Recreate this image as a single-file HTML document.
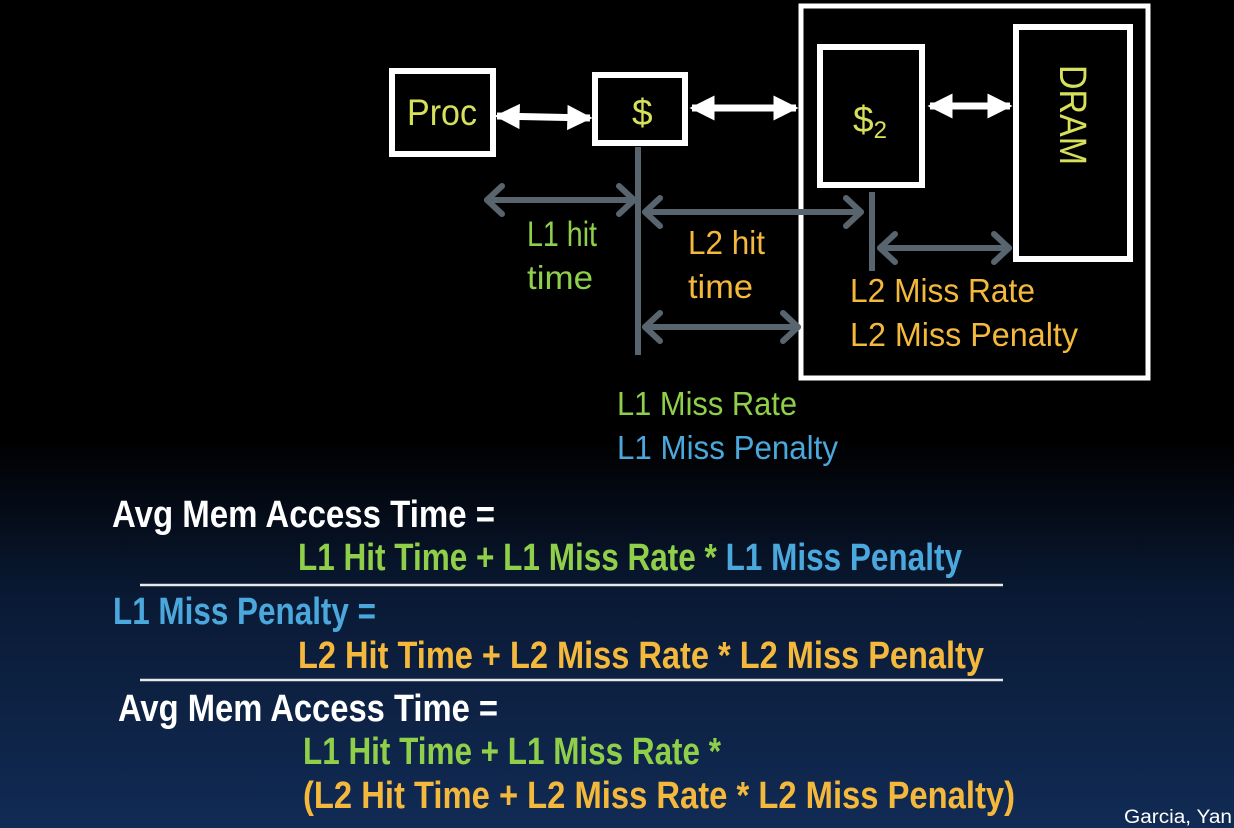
<!DOCTYPE html>
<html><head><meta charset="utf-8"><style>
html,body{margin:0;padding:0;}
body{width:1234px;height:828px;overflow:hidden;background:linear-gradient(to bottom,#000 0px,#000 440px,#0a1a35 600px,#112b55 828px);}
svg{display:block}
.d{font-family:"Liberation Sans Narrow","Liberation Sans",sans-serif;font-size:33px;}
.b{font-family:"Liberation Sans Narrow","Liberation Sans",sans-serif;font-size:38px;font-weight:bold;}
</style></head><body>
<svg width="1234" height="828" viewBox="0 0 1234 828" xmlns="http://www.w3.org/2000/svg">
<defs>
<marker id="wa" viewBox="0 0 10 10" refX="9" refY="5" markerWidth="3.6" markerHeight="4.4" orient="auto-start-reverse"><path d="M0,0 L10,5 L0,10 Z" fill="#fff"/></marker>
</defs>
<g fill="none" stroke="#fff">
<rect x="801" y="6" width="347" height="372" stroke-width="5"/>
<rect x="392" y="71" width="101" height="83" stroke-width="6"/>
<rect x="595" y="75" width="90" height="68" stroke-width="6"/>
<rect x="820" y="47" width="102" height="138" stroke-width="6"/>
<rect x="1016" y="27" width="114" height="232" stroke-width="6"/>
</g>
<g stroke="#fff" stroke-width="7">
<line x1="497" y1="116" x2="590" y2="118" marker-start="url(#wa)" marker-end="url(#wa)"/>
<line x1="692" y1="108" x2="796" y2="108" marker-start="url(#wa)" marker-end="url(#wa)"/>
<line x1="930" y1="106" x2="1010" y2="106" marker-start="url(#wa)" marker-end="url(#wa)"/>
</g>
<g stroke="#58646e" stroke-width="6" fill="none" stroke-linecap="round" stroke-linejoin="round">
<line x1="638" y1="147" x2="638" y2="355" stroke-linecap="butt"/>
<line x1="872" y1="192" x2="872" y2="271" stroke-linecap="butt"/>
<line x1="487" y1="200" x2="634" y2="200"/><polyline points="502,186 487,200 502,214"/><polyline points="619,186 634,200 619,214"/>
<line x1="645" y1="212" x2="861" y2="212"/><polyline points="660,198 645,212 660,226"/><polyline points="846,198 861,212 846,226"/>
<line x1="880" y1="248" x2="1009" y2="248"/><polyline points="895,234 880,248 895,262"/><polyline points="994,234 1009,248 994,262"/>
<line x1="645" y1="327" x2="798" y2="327"/><polyline points="660,313 645,327 660,341"/><polyline points="783,313 798,327 783,341"/>
</g>
<g class="d" fill="#d6e05a">
<text x="407" y="125" font-size="37" textLength="70" lengthAdjust="spacingAndGlyphs">Proc</text>
<text x="632" y="125" font-size="37">$</text>
<text x="853" y="132" font-size="37">$<tspan font-size="24" dy="6">2</tspan></text>
<text transform="translate(1060,65) rotate(90)" font-size="38" textLength="100" lengthAdjust="spacingAndGlyphs">DRAM</text>
</g>
<g class="d">
<text x="527" y="246" fill="#8fcf4a" font-size="35" textLength="70" lengthAdjust="spacingAndGlyphs">L1 hit</text>
<text x="527" y="289" fill="#8fcf4a" textLength="66" lengthAdjust="spacingAndGlyphs">time</text>
<text x="688" y="254" fill="#f4b93c" textLength="77" lengthAdjust="spacingAndGlyphs">L2 hit</text>
<text x="688" y="298" fill="#f4b93c" textLength="65" lengthAdjust="spacingAndGlyphs">time</text>
<text x="850" y="302" fill="#f4b93c" textLength="185" lengthAdjust="spacingAndGlyphs">L2 Miss Rate</text>
<text x="850" y="346" fill="#f4b93c" textLength="228" lengthAdjust="spacingAndGlyphs">L2 Miss Penalty</text>
<text x="617" y="415" fill="#8fcf4a" textLength="180" lengthAdjust="spacingAndGlyphs">L1 Miss Rate</text>
<text x="617" y="459" fill="#4aa8dc" textLength="221" lengthAdjust="spacingAndGlyphs">L1 Miss Penalty</text>
</g>
<g class="b">
<text x="112" y="527" fill="#fff" textLength="383" lengthAdjust="spacingAndGlyphs">Avg Mem Access Time =</text>
<text x="298" y="570" textLength="664" lengthAdjust="spacingAndGlyphs"><tspan fill="#8fcf4a">L1 Hit Time + L1 Miss Rate * </tspan><tspan fill="#4aa8dc">L1 Miss Penalty</tspan></text>
<text x="113" y="624" fill="#4aa8dc" textLength="263" lengthAdjust="spacingAndGlyphs">L1 Miss Penalty =</text>
<text x="298" y="668" fill="#f4b93c" textLength="686" lengthAdjust="spacingAndGlyphs">L2 Hit Time + L2 Miss Rate * L2 Miss Penalty</text>
<text x="118" y="721" fill="#fff" textLength="380" lengthAdjust="spacingAndGlyphs">Avg Mem Access Time =</text>
<text x="303" y="764" fill="#8fcf4a" textLength="418" lengthAdjust="spacingAndGlyphs">L1 Hit Time + L1 Miss Rate *</text>
<text x="303" y="808" fill="#f4b93c" textLength="712" lengthAdjust="spacingAndGlyphs">(L2 Hit Time +  L2 Miss Rate * L2 Miss Penalty)</text>
</g>
<g stroke="#e8e8e8" stroke-width="2.5">
<line x1="140" y1="585" x2="1003" y2="585"/>
<line x1="140" y1="680" x2="1003" y2="680"/>
</g>
<text x="1124" y="823" fill="#fff" font-family="Liberation Sans, sans-serif" font-size="19" textLength="108" lengthAdjust="spacingAndGlyphs">Garcia, Yan</text>
</svg>
</body></html>
